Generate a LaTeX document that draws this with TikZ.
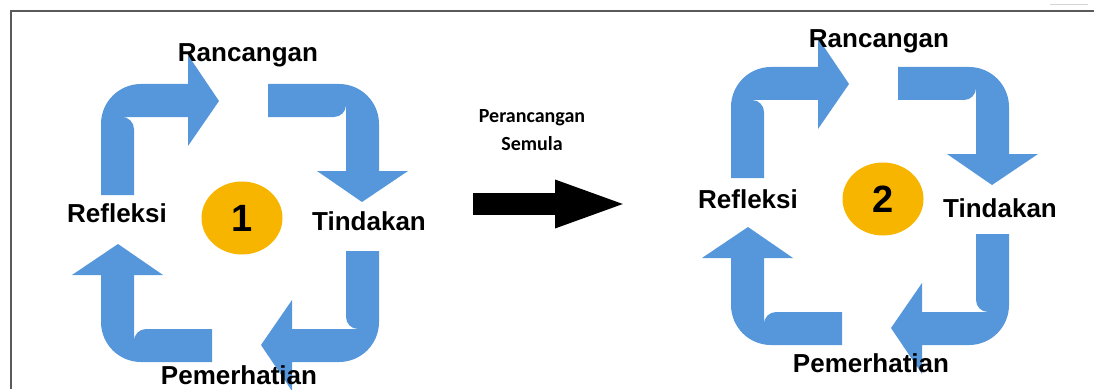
\documentclass[tikz,border=0pt]{standalone}
\usepackage{fontspec}
\setmainfont{Liberation Sans}
\newfontfamily\carlitofont{Carlito}
\usepackage{tikz}
\usetikzlibrary{arrows.meta, shapes.geometric}
\definecolor{CycBlue}{HTML}{5697DB}
\definecolor{CycGold}{HTML}{F7B500}
\definecolor{FrameGray}{HTML}{5A5A5A}
\definecolor{FaintGray}{HTML}{D4D4D4}

\tikzset{
  phaselabel/.style={font=\fontsize{26}{28}\selectfont\bfseries, anchor=base, inner sep=0pt},
  cyclenum/.style={ellipse, fill=CycGold, minimum width=81pt, minimum height=73pt,
    inner sep=0pt, font=\fontsize{38}{40}\selectfont\bfseries},
  midlabel/.style={font=\carlitofont\fontsize{20}{22}\selectfont\bfseries, anchor=base, inner sep=0pt},
  bigarrow/.style={line width=22pt, -{Triangle[length=75pt, width=42pt]}}
}

\begin{document}
\begin{tikzpicture}[x=1pt, y=1pt]
  \useasboundingbox (0,0) rectangle (1094,389);
  % frame
  \draw[FrameGray, line width=2pt] (1094,378) -- (11,378) -- (11,0);
  \draw[FaintGray, line width=1pt] (1050,384) -- (1088,384);

  % cycle arrows, one shape turned four times
  \foreach \cx/\cy in {240/166, 870/183} {
    \foreach \ang in {0,-90,-180,-270} {
      \begin{scope}[shift={(\cx,\cy)}, rotate=\ang]
        \fill[CycBlue] (28,139) -- (99,139) arc[start angle=90, end angle=0, radius=40]
          -- (139,52) -- (168,52) -- (122,21) -- (77,52) -- (106,52)
          -- (106,118) arc[start angle=0, end angle=-90, radius=12] -- (28,106) -- cycle;
      \end{scope}
    }
  }

  % cycle 1
  \node[cyclenum] (num1) at (242,171) {1};
  \node[phaselabel] (ranc1) at (248,327) {Rancangan};
  \node[phaselabel] (tind1) at (369,159) {Tindakan};
  \node[phaselabel] (refl1) at (117,167) {Refleksi};
  \node[phaselabel] (pemr1) at (239,5) {Pemerhatian};

  % cycle 2
  \node[cyclenum] (num2) at (883,190) {2};
  \node[phaselabel] (ranc2) at (879,341) {Rancangan};
  \node[phaselabel] (tind2) at (1000,172) {Tindakan};
  \node[phaselabel] (refl2) at (748,181) {Refleksi};
  \node[phaselabel] (pemr2) at (871,17) {Pemerhatian};

  % middle
  \node[midlabel] (perancangan) at (532,267) {Perancangan};
  \node[midlabel] (semula) at (532,239) {Semula};
  \coordinate (shaftstart) at (473,185);
  \coordinate (shafttip) at (630,185);
  \draw[bigarrow] (shaftstart) -- (shafttip);
\end{tikzpicture}
\end{document}
